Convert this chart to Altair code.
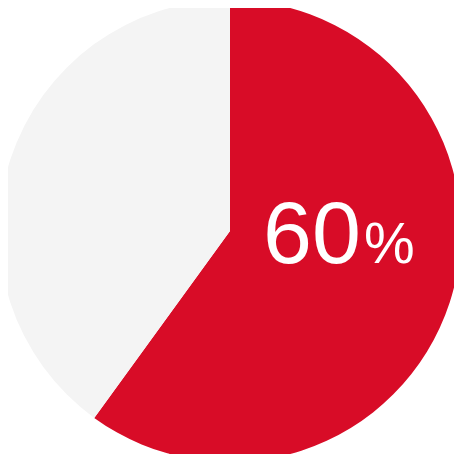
import altair as alt
import pandas as pd

categories = ["share", "rest"]
values = [60, 40]
colors = ["#d80c27", "#f4f4f4"]
label_number = ["60"]
label_unit = ["%"]

pie_df = pd.DataFrame({"category": categories, "value": values, "order": [0, 1]})
text_df = pd.DataFrame({"num": label_number, "unit": label_unit})

pie = alt.Chart(pie_df).mark_arc(radius=231, strokeWidth=0).encode(
    theta=alt.Theta("value:Q", stack=True),
    order=alt.Order("order:Q"),
    color=alt.Color("category:N", scale=alt.Scale(domain=categories, range=colors), legend=None),
    x=alt.value(222),
    y=alt.value(223),
)

num = alt.Chart(text_df).mark_text(
    font="Liberation Sans", fontSize=88, color="white", align="left", baseline="alphabetic"
).encode(text="num:N", x=alt.value(255), y=alt.value(254.5))

unit = alt.Chart(text_df).mark_text(
    font="Liberation Sans", fontSize=57, color="white", align="left", baseline="alphabetic"
).encode(text="unit:N", x=alt.value(356), y=alt.value(254.5))

chart = alt.layer(pie, num, unit).properties(
    width=446, height=446, padding=0,
    autosize=alt.AutoSizeParams(type="none"),
).configure_view(stroke=None)

chart.save("out.html", embed_options={"renderer": "svg", "actions": False})
